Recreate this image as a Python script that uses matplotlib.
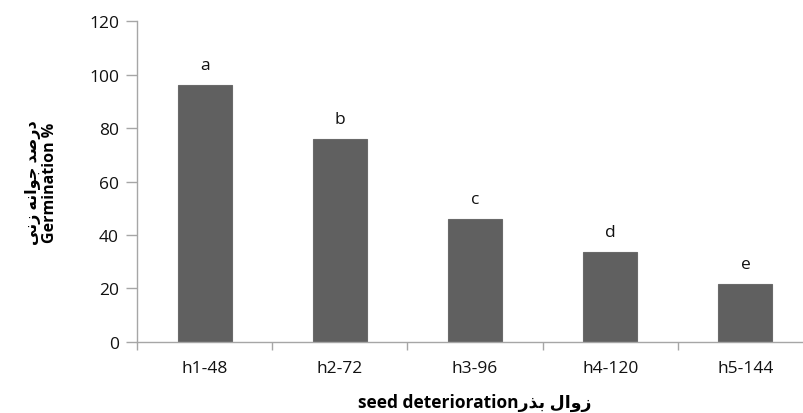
import matplotlib.pyplot as plt

# داده‌ها
categories = ['h1-48', 'h2-72', 'h3-96', 'h4-120', 'h5-144']
germination = [96, 76, 46, 33.5, 21.5]
letters = ['a', 'b', 'c', 'd', 'e']

# متن فارسی با شکل‌های نمایشی (matplotlib حروف عربی را به هم نمی‌چسباند)
ylabel_fa = '\uFEF0\uFEE7\uFEAF \uFEEA\uFEE7\uFE8D\uFEEE\uFE9F \uFEAA\uFEBB\uFEAD\uFEA9'
xlabel_fa = '\uFEAD\uFEAC\uFE91 \uFEDD\uFE8D\uFEED\uFEAF'

plt.rcParams['font.family'] = ['Open Sans', 'DejaVu Sans']

fig = plt.figure(figsize=(8.04, 4.14), dpi=100)
ax = fig.add_axes([0.1704, 0.1722, 0.8408, 0.7739])

x = range(len(categories))
ax.bar(x, germination, width=0.4, color='#606060', edgecolor='#6a6a6a', linewidth=0.8)

for i, (v, s) in enumerate(zip(germination, letters)):
    ax.text(i, v + 4.5, s, ha='center', va='bottom', fontsize=12.5, color='#111111')

ax.set_xlim(-0.5, len(categories) - 0.5)
ax.set_ylim(0, 120)
ax.set_yticks(range(0, 121, 20))

# خط‌های تیک محور x بین ستون‌ها
ax.set_xticks([i - 0.5 for i in range(len(categories) + 1)], minor=False)
ax.set_xticklabels([])
ax.set_xticks(list(x), minor=True)
ax.set_xticklabels(categories, minor=True)
ax.tick_params(axis='x', which='minor', length=0, pad=13, labelsize=12.5, labelcolor='#111111')
ax.tick_params(axis='x', which='major', length=6, color='#a6a6a6', width=1)
ax.tick_params(axis='y', length=8, color='#a6a6a6', width=1, pad=5, labelsize=12.5,
               labelcolor='#111111')

for side in ['top', 'right']:
    ax.spines[side].set_visible(False)
for side in ['left', 'bottom']:
    ax.spines[side].set_color('#a6a6a6')
    ax.spines[side].set_linewidth(1)

ax.set_xlabel('seed deterioration' + xlabel_fa, fontsize=12.5, fontweight='bold', labelpad=12)
ax.set_ylabel(ylabel_fa + '\nGermination %', fontsize=11.5, fontweight='bold',
              labelpad=22, linespacing=1.1)

plt.savefig('out.png', dpi=100)
